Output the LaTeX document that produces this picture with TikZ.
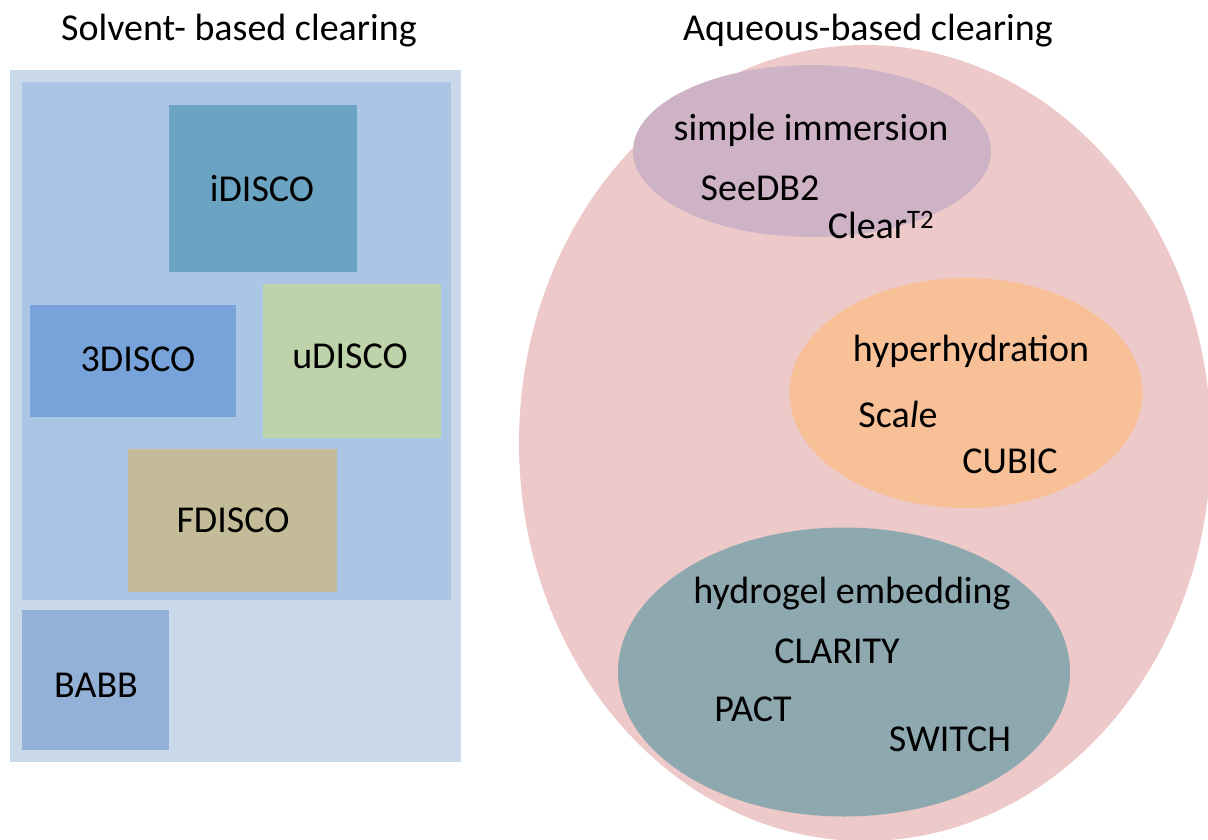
\documentclass[tikz,border=0pt]{standalone}
\usepackage{fontspec}
\setmainfont{Carlito}
\usetikzlibrary{shapes.geometric}

\definecolor{solventouter}{HTML}{C9D9EA}
\definecolor{solventinner}{HTML}{ABC5E5}
\definecolor{idiscofill}{HTML}{6BA4C2}
\definecolor{tdiscofill}{HTML}{77A3DA}
\definecolor{udiscofill}{HTML}{BED3AA}
\definecolor{fdiscofill}{HTML}{C4BC98}
\definecolor{babbfill}{HTML}{93B0D6}
\definecolor{aqueousfill}{HTML}{EEC9C9}
\definecolor{immersionfill}{HTML}{CEB2C6}
\definecolor{hyperfill}{HTML}{F8C096}
\definecolor{hydrogelfill}{HTML}{8EA8B0}

\tikzset{
  panel/.style={draw=none, inner sep=0pt, anchor=north west},
  group/.style={ellipse, draw=none, inner sep=0pt},
  label/.style={anchor=base, inner sep=0pt, font=\fontsize{38}{45}\selectfont},
}

\begin{document}
\begin{tikzpicture}[x=1pt, y=-1pt]
  \clip (0,0) rectangle (1208,839);
  \fill[white] (0,0) rectangle (1208,839);

  % ---- solvent-based clearing ----
  \node[label] (solventtitle) at (239,40) {Solvent- based clearing};
  \node[panel, fill=solventouter, minimum width=451pt, minimum height=692pt] (outer) at (10,70) {};
  \node[panel, fill=solventinner, minimum width=429pt, minimum height=518pt] (inner) at (22,82) {};

  \node[panel, fill=idiscofill, minimum width=188pt, minimum height=167pt] (idisco) at (169,105) {};
  \node[panel, fill=tdiscofill, minimum width=206pt, minimum height=112pt] (tdisco) at (30,305) {};
  \node[panel, fill=udiscofill, minimum width=178pt, minimum height=154pt] (udisco) at (263,284) {};
  \node[panel, fill=fdiscofill, minimum width=209pt, minimum height=143pt] (fdisco) at (128,449) {};
  \node[panel, fill=babbfill, minimum width=147pt, minimum height=140pt] (babb) at (22,610) {};

  \node[label] (idiscotext) at (262,201) {iDISCO};
  \node[label] (tdiscotext) at (138,371) {3DISCO};
  \node[label] (udiscotext) at (350,368) {uDISCO};
  \node[label] (fdiscotext) at (233,532) {FDISCO};
  \node[label] (babbtext) at (96,697) {BABB};

  % ---- aqueous-based clearing ----
  \node[label] (aqueoustitle) at (868,40) {Aqueous-based clearing};
  \node[group, fill=aqueousfill, minimum width=692pt, minimum height=796pt] (aqueous) at (865,443) {};

  \node[group, fill=immersionfill, minimum width=358pt, minimum height=172pt] (immersion) at (812,151) {};
  \node[group, fill=hyperfill, minimum width=353pt, minimum height=230pt] (hyper) at (966,393) {};
  \node[group, fill=hydrogelfill, minimum width=452pt, minimum height=289pt] (hydrogel) at (844,672) {};

  \node[label] (immersiontext) at (811,140) {simple immersion};
  \node[label] (seedb) at (760,200) {SeeDB2};
  \node[label] (clear) at (881,238) {Clear\textsuperscript{T2}};

  \node[label] (hypertext) at (971,361) {hyperhydration};
  \node[label] (scale) at (898,427) {Sca\textit{l}e};
  \node[label] (cubic) at (1010,473) {CUBIC};

  \node[label] (hydrogeltext) at (852,603) {hydrogel embedding};
  \node[label] (clarity) at (837,663) {CLARITY};
  \node[label] (pact) at (753,721) {PACT};
  \node[label] (switch) at (950,751) {SWITCH};
\end{tikzpicture}
\end{document}
